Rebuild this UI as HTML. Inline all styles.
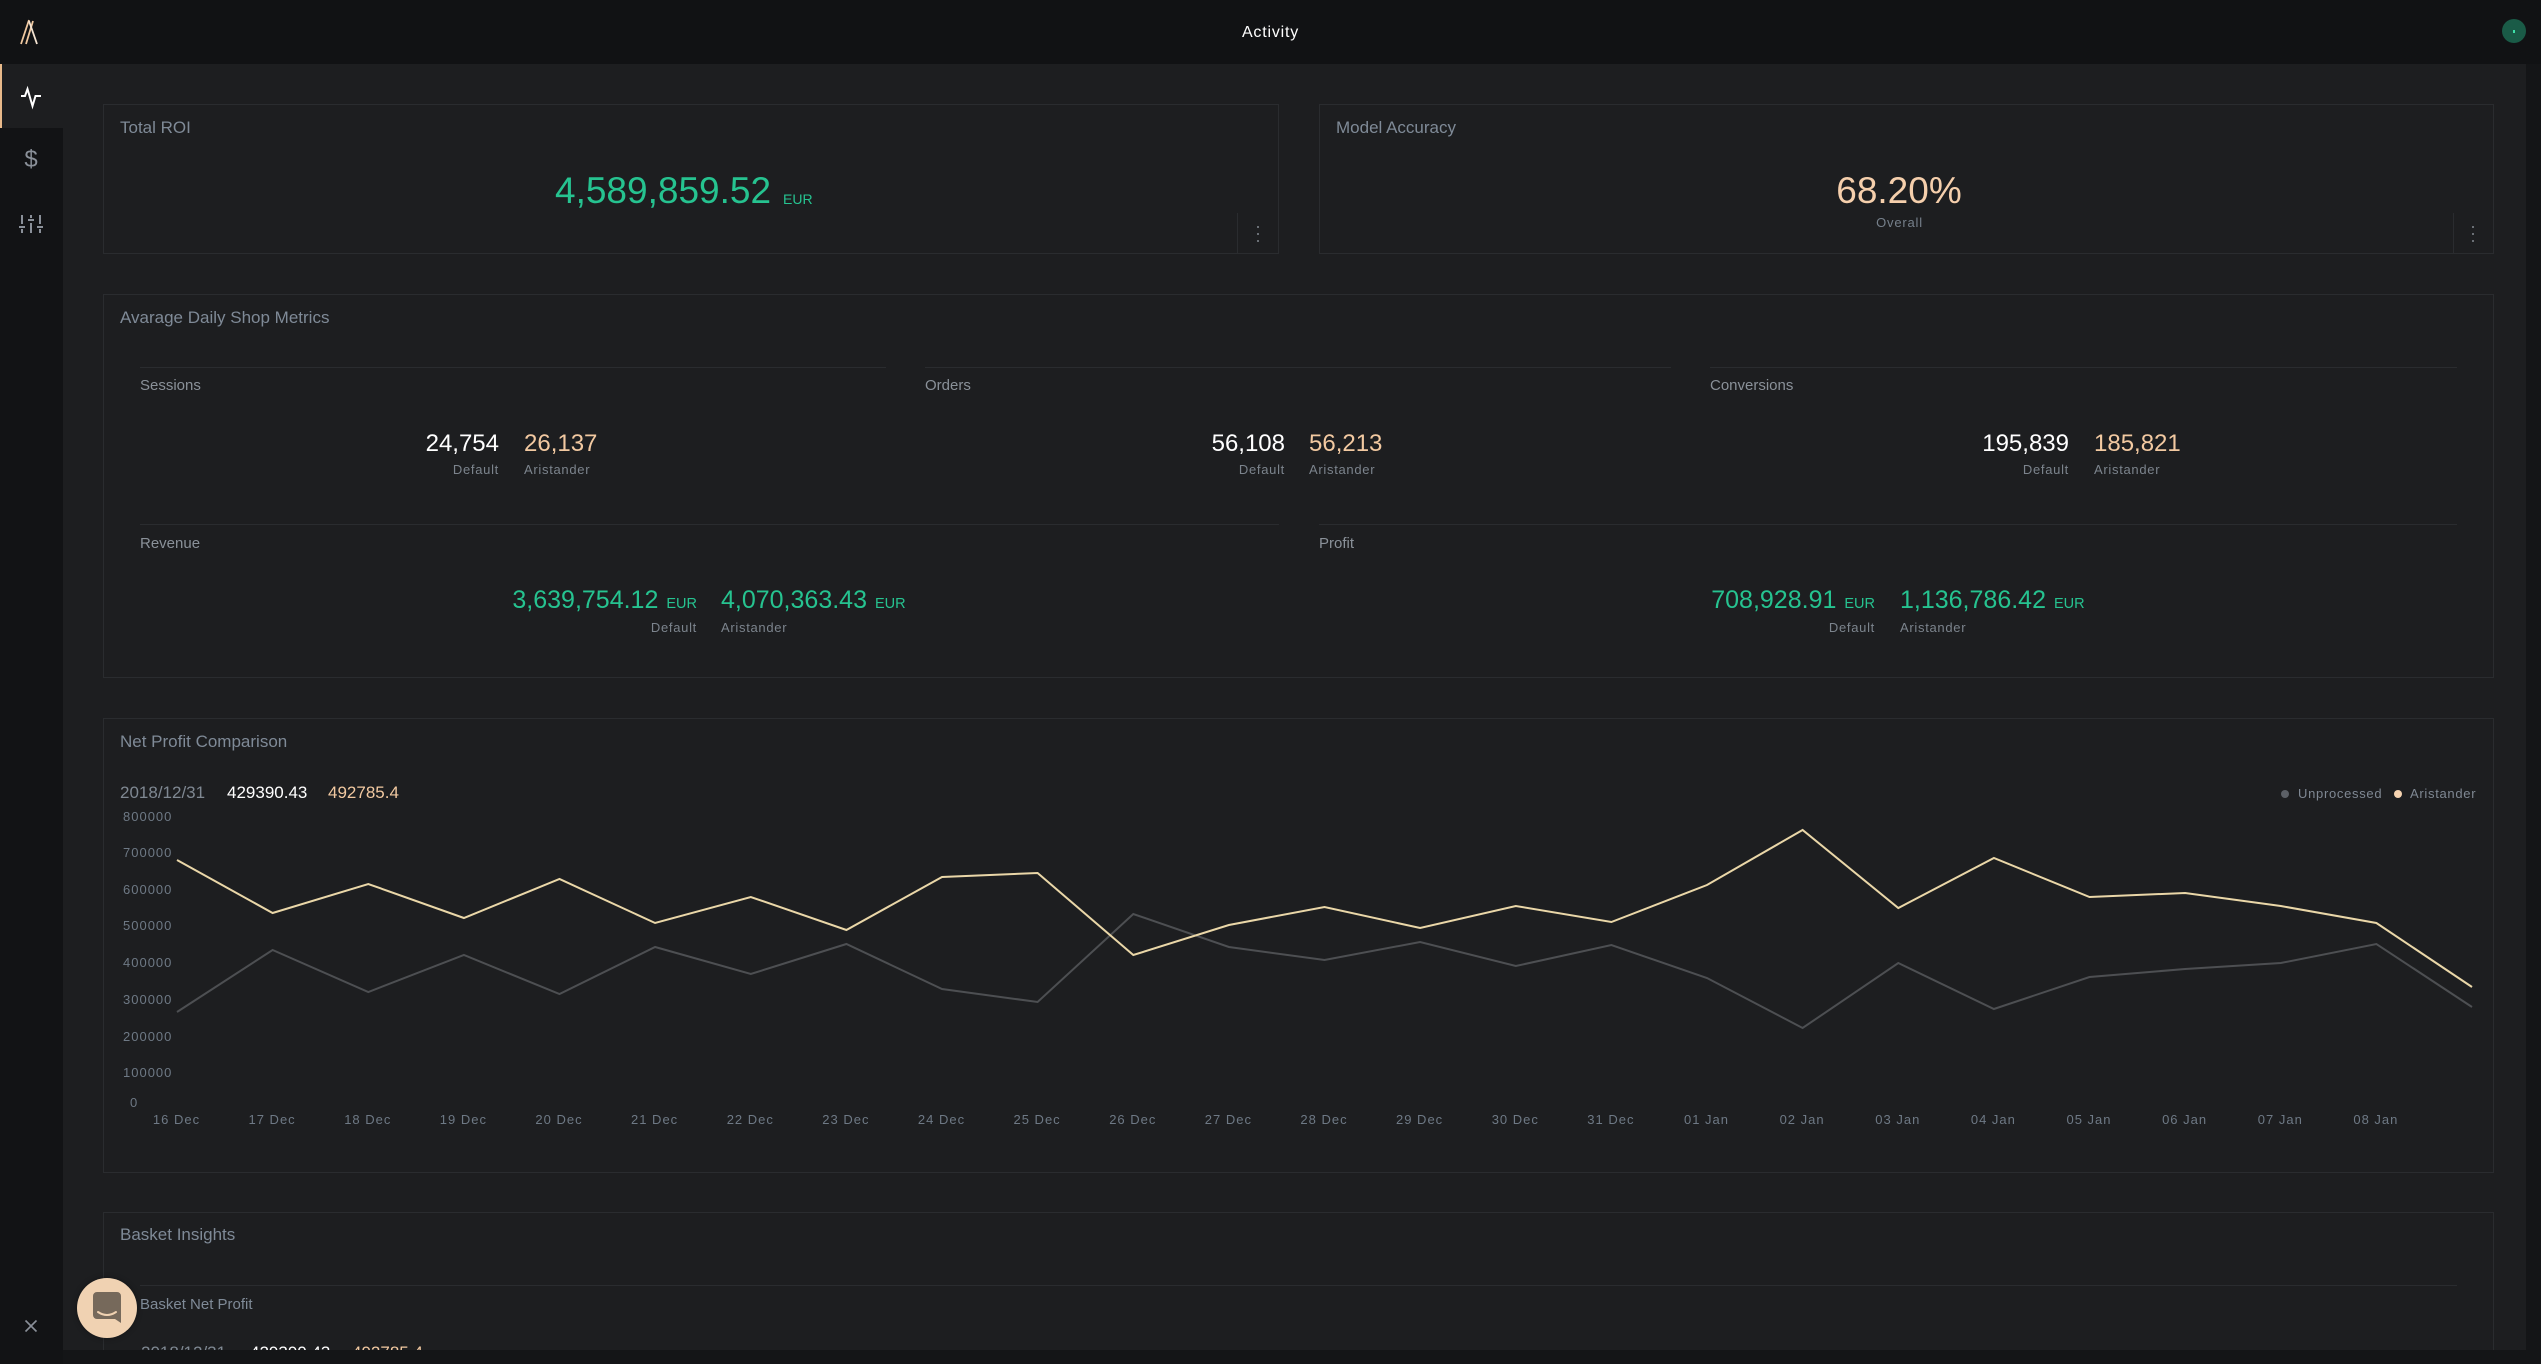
<!DOCTYPE html>
<html><head><meta charset="utf-8">
<style>
*{margin:0;padding:0;box-sizing:border-box}
html,body{width:2541px;height:1364px;overflow:hidden;background:#141517;font-family:"Liberation Sans",sans-serif}
#wrap{position:relative;width:2541px;height:1364px;overflow:hidden;background:#1d1e20}
.a{position:absolute;white-space:nowrap;line-height:1}
.card{position:absolute;border:1px solid #2a2c2f}
.title{font-size:17px;color:#7f8a97}
.sec{font-size:15px;color:#8a9199}
.lbl{font-size:13px;color:#7c848d;letter-spacing:0.7px}
.hl{position:absolute;height:1px;background:#2a2c2f}
.n24{font-size:24px}
.w{color:#ffffff}
.p{color:#f2c9a1}
.g{color:#26c390}
.ax{font-size:13px;color:#6e7985;letter-spacing:1px}
.xl{width:100px;text-align:center;padding-left:1px}
.r{text-align:right}
.eur{font-size:14.5px;margin-left:8px}
</style></head><body>
<div id="wrap">

<!-- header -->
<div class="a" style="left:0;top:0;width:2541px;height:64px;background:#111214"></div>
<svg class="a" style="left:0;top:0" width="64" height="64">
  <line x1="21" y1="44" x2="29" y2="20" stroke="#f0c8a0" stroke-width="1.8"/>
  <line x1="26" y1="44" x2="33" y2="21" stroke="#f0c8a0" stroke-width="1.8"/>
  <line x1="29" y1="21" x2="37" y2="44" stroke="#f5e4d2" stroke-width="1.8"/>
</svg>
<div class="a" style="left:1170px;top:24.5px;width:200px;text-align:center;font-size:16px;color:#fff;letter-spacing:0.8px;padding-left:1px">Activity</div>
<div class="a" style="left:2502px;top:19px;width:24px;height:24px;border-radius:50%;background:#1a5b47"></div>
<div class="a" style="left:2513px;top:30px;width:2px;height:3px;background:#3fe0a8"></div>

<!-- sidebar -->
<div class="a" style="left:0;top:64px;width:63px;height:1300px;background:#121315"></div>
<div class="a" style="left:0;top:64px;width:63px;height:64px;background:#1d1e20;border-left:2px solid #e8b98a"></div>
<svg class="a" style="left:0;top:64px" width="63" height="200">
  <polyline points="21,32 25,32 27.5,25 32.5,42 35.5,32 41,32" fill="none" stroke="#ffffff" stroke-width="2" stroke-linejoin="miter"/>
</svg>
<div class="a" style="left:11px;top:148px;width:40px;text-align:center;font-size:24px;color:#8a9099">$</div>
<svg class="a" style="left:0;top:200px" width="63" height="50">
  <g stroke="#8a9099" stroke-width="2">
    <line x1="22" y1="15" x2="22" y2="24"/><line x1="22" y1="29" x2="22" y2="33"/>
    <line x1="19" y1="27" x2="25" y2="27"/>
    <line x1="31" y1="15" x2="31" y2="18"/><line x1="31" y1="23" x2="31" y2="33"/>
    <line x1="28" y1="20" x2="34" y2="20"/>
    <line x1="40" y1="15" x2="40" y2="24"/><line x1="40" y1="29" x2="40" y2="33"/>
    <line x1="37" y1="27" x2="43" y2="27"/>
  </g>
</svg>
<svg class="a" style="left:24px;top:1319px" width="14" height="14">
  <line x1="1.5" y1="1.5" x2="12.5" y2="12.5" stroke="#8a9099" stroke-width="1.6"/>
  <line x1="12.5" y1="1.5" x2="1.5" y2="12.5" stroke="#8a9099" stroke-width="1.6"/>
</svg>

<!-- Total ROI card -->
<div class="card" style="left:103px;top:104px;width:1176px;height:150px"></div>
<div class="a title" style="left:120px;top:119px">Total ROI</div>
<div class="a g" style="left:555px;top:172px;font-size:37px">4,589,859.52</div>
<div class="a g" style="left:783px;top:191.5px;font-size:14px">EUR</div>
<div class="a" style="left:1237px;top:213px;width:1px;height:40px;background:#2a2c2f"></div>
<div class="a" style="left:1257px;top:226px;width:2px;height:2px;background:#6a6f75"></div>
<div class="a" style="left:1257px;top:233px;width:2px;height:2px;background:#6a6f75"></div>
<div class="a" style="left:1257px;top:240px;width:2px;height:2px;background:#6a6f75"></div>

<!-- Model Accuracy card -->
<div class="card" style="left:1319px;top:104px;width:1175px;height:150px"></div>
<div class="a title" style="left:1336px;top:119px">Model Accuracy</div>
<div class="a p" style="left:1699px;top:172px;width:400px;text-align:center;font-size:37px;color:#f5cfac">68.20%</div>
<div class="a" style="left:1799px;top:216px;width:200px;text-align:center;font-size:13px;letter-spacing:0.8px;padding-left:1px;color:#76808b">Overall</div>
<div class="a" style="left:2453px;top:213px;width:1px;height:40px;background:#2a2c2f"></div>
<div class="a" style="left:2472px;top:226px;width:2px;height:2px;background:#6a6f75"></div>
<div class="a" style="left:2472px;top:233px;width:2px;height:2px;background:#6a6f75"></div>
<div class="a" style="left:2472px;top:240px;width:2px;height:2px;background:#6a6f75"></div>

<!-- Metrics card -->
<div class="card" style="left:103px;top:294px;width:2391px;height:384px"></div>
<div class="a title" style="left:120px;top:308.6px">Avarage Daily Shop Metrics</div>
<div class="hl" style="left:140px;top:367px;width:746px"></div>
<div class="hl" style="left:925px;top:367px;width:746px"></div>
<div class="hl" style="left:1710px;top:367px;width:747px"></div>
<div class="a sec" style="left:140px;top:378.3px">Sessions</div>
<div class="a sec" style="left:925px;top:378.3px">Orders</div>
<div class="a sec" style="left:1710px;top:378.3px">Conversions</div>

<div class="a n24 w r" style="left:199px;top:432px;width:300px">24,754</div>
<div class="a lbl r" style="left:199px;top:463.3px;width:300px">Default</div>
<div class="a n24 p" style="left:524px;top:432px">26,137</div>
<div class="a lbl" style="left:524px;top:463.3px">Aristander</div>

<div class="a n24 w r" style="left:985px;top:432px;width:300px">56,108</div>
<div class="a lbl r" style="left:985px;top:463.3px;width:300px">Default</div>
<div class="a n24 p" style="left:1309px;top:432px">56,213</div>
<div class="a lbl" style="left:1309px;top:463.3px">Aristander</div>

<div class="a n24 w r" style="left:1769px;top:432px;width:300px">195,839</div>
<div class="a lbl r" style="left:1769px;top:463.3px;width:300px">Default</div>
<div class="a n24 p" style="left:2094px;top:432px">185,821</div>
<div class="a lbl" style="left:2094px;top:463.3px">Aristander</div>

<div class="hl" style="left:140px;top:524px;width:1139px"></div>
<div class="hl" style="left:1319px;top:524px;width:1138px"></div>
<div class="a sec" style="left:140px;top:535.6px">Revenue</div>
<div class="a sec" style="left:1319px;top:535.6px">Profit</div>

<div class="a g r" style="left:297px;top:587.8px;width:400px;font-size:25px">3,639,754.12<span class="eur">EUR</span></div>
<div class="a lbl r" style="left:397px;top:620.7px;width:300px">Default</div>
<div class="a g" style="left:721px;top:587.8px;font-size:25px">4,070,363.43<span class="eur">EUR</span></div>
<div class="a lbl" style="left:721px;top:620.7px">Aristander</div>

<div class="a g r" style="left:1475px;top:587.8px;width:400px;font-size:25px">708,928.91<span class="eur">EUR</span></div>
<div class="a lbl r" style="left:1575px;top:620.7px;width:300px">Default</div>
<div class="a g" style="left:1900px;top:587.8px;font-size:25px">1,136,786.42<span class="eur">EUR</span></div>
<div class="a lbl" style="left:1900px;top:620.7px">Aristander</div>

<!-- Net Profit Comparison card -->
<div class="card" style="left:103px;top:718px;width:2391px;height:455px"></div>
<div class="a title" style="left:120px;top:732.6px">Net Profit Comparison</div>
<div class="a" style="left:120px;top:784px;font-size:17px;color:#7f8892">2018/12/31</div>
<div class="a w" style="left:227px;top:784px;font-size:17px">429390.43</div>
<div class="a p" style="left:328px;top:784px;font-size:17px">492785.4</div>

<div class="a" style="left:2281px;top:790px;width:8px;height:8px;border-radius:50%;background:#5c6066"></div>
<div class="a lbl" style="left:2298px;top:787.3px;color:#7f8893">Unprocessed</div>
<div class="a" style="left:2394px;top:790px;width:8px;height:8px;border-radius:50%;background:#f5d3b0"></div>
<div class="a lbl" style="left:2410px;top:787.3px;color:#7f8893">Aristander</div>

<div class="a ax" style="left:123px;top:810.3px">800000</div>
<div class="a ax" style="left:123px;top:846.3px">700000</div>
<div class="a ax" style="left:123px;top:883.3px">600000</div>
<div class="a ax" style="left:123px;top:919.3px">500000</div>
<div class="a ax" style="left:123px;top:956px">400000</div>
<div class="a ax" style="left:123px;top:993px">300000</div>
<div class="a ax" style="left:123px;top:1030.3px">200000</div>
<div class="a ax" style="left:123px;top:1066.3px">100000</div>
<div class="a ax" style="left:130px;top:1096.3px">0</div>

<div class="a ax xl" style="left:126px;top:1113px">16 Dec</div>
<div class="a ax xl" style="left:221.6px;top:1113px">17 Dec</div>
<div class="a ax xl" style="left:317.3px;top:1113px">18 Dec</div>
<div class="a ax xl" style="left:412.9px;top:1113px">19 Dec</div>
<div class="a ax xl" style="left:508.5px;top:1113px">20 Dec</div>
<div class="a ax xl" style="left:604.1px;top:1113px">21 Dec</div>
<div class="a ax xl" style="left:699.8px;top:1113px">22 Dec</div>
<div class="a ax xl" style="left:795.4px;top:1113px">23 Dec</div>
<div class="a ax xl" style="left:891px;top:1113px">24 Dec</div>
<div class="a ax xl" style="left:986.6px;top:1113px">25 Dec</div>
<div class="a ax xl" style="left:1082.3px;top:1113px">26 Dec</div>
<div class="a ax xl" style="left:1177.9px;top:1113px">27 Dec</div>
<div class="a ax xl" style="left:1273.5px;top:1113px">28 Dec</div>
<div class="a ax xl" style="left:1369.1px;top:1113px">29 Dec</div>
<div class="a ax xl" style="left:1464.8px;top:1113px">30 Dec</div>
<div class="a ax xl" style="left:1560.4px;top:1113px">31 Dec</div>
<div class="a ax xl" style="left:1656px;top:1113px">01 Jan</div>
<div class="a ax xl" style="left:1751.6px;top:1113px">02 Jan</div>
<div class="a ax xl" style="left:1847.3px;top:1113px">03 Jan</div>
<div class="a ax xl" style="left:1942.9px;top:1113px">04 Jan</div>
<div class="a ax xl" style="left:2038.5px;top:1113px">05 Jan</div>
<div class="a ax xl" style="left:2134.1px;top:1113px">06 Jan</div>
<div class="a ax xl" style="left:2229.8px;top:1113px">07 Jan</div>
<div class="a ax xl" style="left:2325.4px;top:1113px">08 Jan</div>

<svg class="a" style="left:0;top:0" width="2541" height="1364">
  <polyline fill="none" stroke="#4d4f52" stroke-width="2" stroke-linejoin="miter"
    points="177,1012 272.6,950 368.3,992 463.9,955 559.5,994 655.1,947 750.8,974 846.4,944 942,989 1037.6,1002 1133.3,914 1228.9,947 1324.5,960 1420.1,942 1515.8,966 1611.4,945 1707,978 1802.6,1028 1898.3,963 1993.9,1009 2089.5,977 2185.1,969 2280.8,963 2376.4,944 2472,1007"/>
  <polyline fill="none" stroke="#ead7a8" stroke-width="2" stroke-linejoin="miter"
    points="177,860 272.6,913 368.3,884 463.9,918 559.5,879 655.1,923 750.8,897 846.4,930 942,877 1037.6,873 1133.3,955 1228.9,925 1324.5,907 1420.1,928 1515.8,906 1611.4,922 1707,885 1802.6,830 1898.3,908 1993.9,858 2089.5,897 2185.1,893 2280.8,906 2376.4,923 2472,987"/>
</svg>

<!-- Basket Insights card (clipped) -->
<div class="card" style="left:103px;top:1212px;width:2391px;height:145px;border-bottom:none"></div>
<div class="a title" style="left:120px;top:1225.6px">Basket Insights</div>
<div class="hl" style="left:140px;top:1285px;width:2317px"></div>
<div class="a sec" style="left:140px;top:1296.6px;color:#7f8a97">Basket Net Profit</div>
<div class="a" style="left:141px;top:1343.6px;font-size:17px;color:#7f8892">2018/12/31</div>
<div class="a w" style="left:250px;top:1343.6px;font-size:17px">429390.43</div>
<div class="a p" style="left:352px;top:1343.6px;font-size:17px">492785.4</div>

<!-- scrollbars / edges -->
<div class="a" style="left:2526px;top:64px;width:15px;height:1300px;background:#141517"></div>
<div class="a" style="left:0;top:1350px;width:2541px;height:14px;background:#141517"></div>
<div class="a" style="left:0;top:1350px;width:63px;height:14px;background:#121315"></div>

<!-- chat button -->
<div class="a" style="left:77px;top:1278px;width:60px;height:60px;border-radius:50%;background:#f0d2b2;box-shadow:0 0 6px rgba(0,0,0,0.35)"></div>
<svg class="a" style="left:77px;top:1278px" width="60" height="60">
  <path d="M20,14 h20 a4,4 0 0 1 4,4 v27 l-6,-4 h-18 a4,4 0 0 1 -4,-4 v-19 a4,4 0 0 1 4,-4 z" fill="#76695b"/>
  <path d="M21,34 Q30,40 39,34" fill="none" stroke="#f0d2b2" stroke-width="2" stroke-linecap="round"/>
</svg>

</div>
</body></html>
